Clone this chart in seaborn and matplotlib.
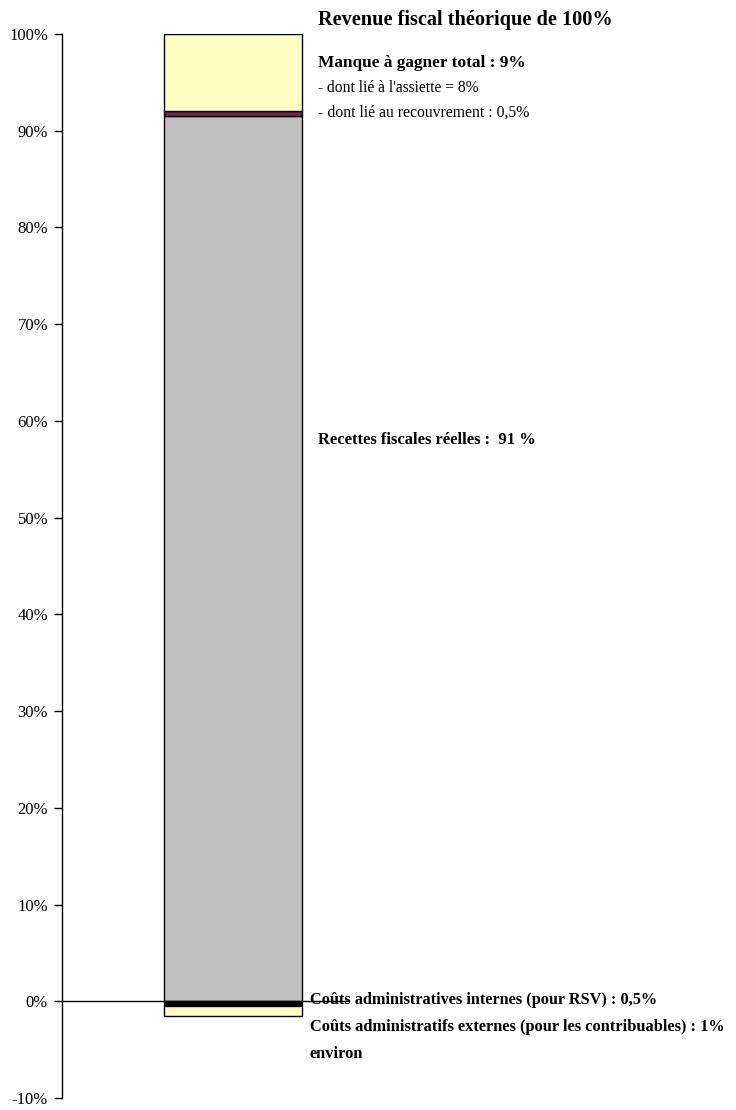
import matplotlib
matplotlib.use("Agg")
import matplotlib.pyplot as plt
import seaborn as sns
import pandas as pd
import numpy as np

sns.set_theme(style="white")
plt.rcParams['font.family'] = ['Liberation Serif', 'DejaVu Serif']

# Data
category = ["Revenu"]
pos_segments = ["Recettes fiscales réelles", "Manque recouvrement", "Manque assiette"]
pos_values = [91.5, 0.5, 8.0]
pos_colors = ["#C0C0C0", "#7B1E5A", "#FFFFC4"]
neg_segments = ["Coûts internes", "Coûts externes"]
neg_values = [-0.5, -1.0]
neg_colors = ["#000000", "#FFFFC4"]
yticks = [-10, 0, 10, 20, 30, 40, 50, 60, 70, 80, 90, 100]
ytick_labels = ["-10%", "0%", "10%", "20%", "30%", "40%", "50%", "60%", "70%", "80%", "90%", "100%"]

fig = plt.figure(figsize=(7.36, 11.10), dpi=100)
ax = fig.add_axes([62/736, 12/1110, 288/736, 1064/1110])

bar_w = 0.48
bottom = 0.0
for name, val, col in zip(pos_segments, pos_values, pos_colors):
    df = pd.DataFrame({"cat": category, "val": [val]})
    sns.barplot(data=df, x="cat", y="val", ax=ax, color=col, bottom=bottom,
                width=bar_w, edgecolor="black", linewidth=1.0, saturation=1)
    bottom += val
bottom = 0.0
for name, val, col in zip(neg_segments, neg_values, neg_colors):
    df = pd.DataFrame({"cat": category, "val": [val]})
    sns.barplot(data=df, x="cat", y="val", ax=ax, color=col, bottom=bottom,
                width=bar_w, edgecolor="black", linewidth=1.0, saturation=1)
    bottom += val

ax.set_xlim(-0.594, 0.406)
ax.set_ylim(-10, 100)
ax.axhline(0, color="black", lw=1.0, zorder=0.5)
ax.set_xlabel("")
ax.set_ylabel("")
ax.set_xticks([])
ax.set_yticks(yticks)
ax.set_yticklabels(ytick_labels, fontsize=12, color="black")
ax.tick_params(axis="y", direction="out", length=6, width=1, color="black",
               labelcolor="black", left=True, pad=4)
for s in ["top", "right", "bottom"]:
    ax.spines[s].set_visible(False)
ax.spines["left"].set_color("black")
ax.spines["left"].set_linewidth(1.0)

def ftxt(px, py, s, bold=False, size=12):
    fig.text(px/736, 1 - py/1110, s, ha="left", va="center", fontsize=size,
             fontweight="bold" if bold else "normal", color="black")

ftxt(318, 20, "Revenue fiscal théorique de 100%", bold=True, size=14.6)
ftxt(318, 63, "Manque à gagner total : 9%", bold=True, size=12.4)
ftxt(318, 88, "- dont lié à l'assiette = 8%", size=11.2)
ftxt(318, 113, "- dont lié au recouvrement : 0,5%", size=11.3)
ftxt(318, 440, "Recettes fiscales réelles :  91 %", bold=True, size=11.9)
ftxt(310, 1000, "Coûts administratives internes (pour RSV) : 0,5%", bold=True, size=11.7)
ftxt(310, 1027, "Coûts administratifs externes (pour les contribuables) : 1%", bold=True, size=11.8)
ftxt(310, 1054, "environ", bold=True, size=11.8)

fig.savefig("out.png", dpi=100)
